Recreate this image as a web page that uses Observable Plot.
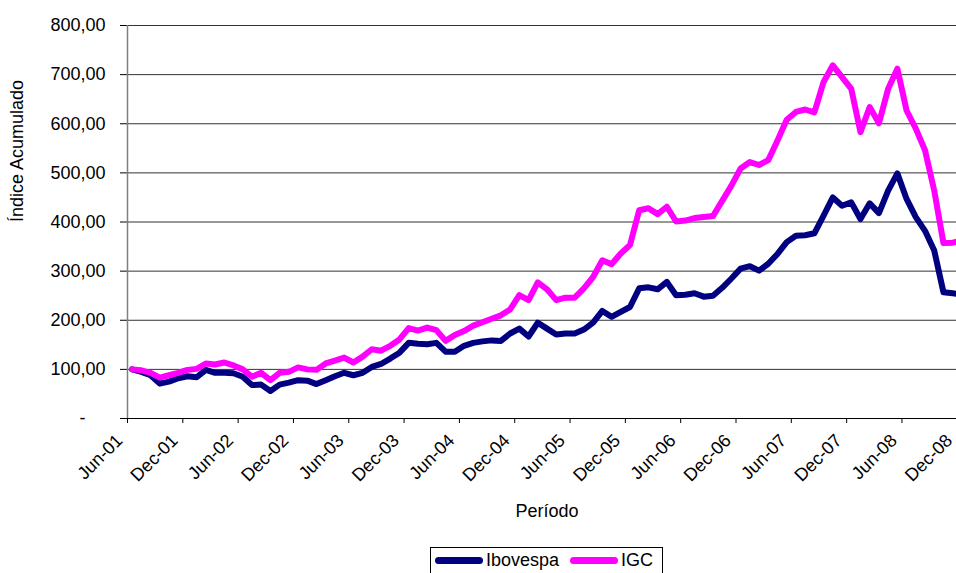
<!DOCTYPE html>
<html><head><meta charset="utf-8">
<script src="https://cdn.jsdelivr.net/npm/d3@7"></script>
<script src="https://cdn.jsdelivr.net/npm/@observablehq/plot@0.6"></script>
<style>
html,body{margin:0;padding:0;background:#fff;overflow:hidden;width:956px;height:573px;position:relative;}
#chart{position:absolute;left:0;top:0;}
#legend{position:absolute;left:430px;top:547px;width:233px;height:40px;border:1px solid #000;box-sizing:border-box;background:#fff;font-family:"Liberation Sans",Arial,sans-serif;font-size:18px;color:#000;}
.item{position:absolute;top:2px;height:21px;line-height:21px;display:flex;align-items:center;white-space:nowrap;}
.sw{display:inline-block;width:48px;height:7px;border-radius:4px;margin-right:3px;}
</style></head><body>
<div id="chart"></div>
<div id="legend"></div>
<script>
const seriesNames = ["Ibovespa", "IGC"];
const seriesColors = ["#000080", "#FF00FF"];
const ibovespa = [100,95,88,71,75,82,86,84,99,93,93,92,85,68,69,56,69,73,78,77,
  70,78,86,93,88,93,105,111,122,134,154,152,151,154,136,136,148,154,157,159,
  158,173,183,167,195,183,171,173,173,181,195,219,207,217,227,265,267,263,278,251,
  252,255,248,250,266,285,305,310,301,315,335,359,372,373,377,413,450,433,440,406,
  438,418,464,499,447,410,382,342,257,255,252];
const igc = [100,98,93,83,88,93,99,101,112,110,114,108,100,85,93,78,93,95,104,100,
  99,112,118,124,114,126,141,138,148,161,184,179,185,180,158,170,178,189,196,203,
  210,222,251,241,277,263,241,246,246,265,288,322,314,336,353,424,428,416,431,401,
  403,408,410,412,443,474,509,522,516,526,566,608,624,629,623,685,719,695,671,583,
  634,601,671,712,627,590,546,464,357,358,362];
const xTickLabels = ["Jun-01","Dec-01","Jun-02","Dec-02","Jun-03","Dec-03","Jun-04","Dec-04","Jun-05","Dec-05","Jun-06","Dec-06","Jun-07","Dec-07","Jun-08","Dec-08"];
const yTicks = [0,100,200,300,400,500,600,700,800];
const xTitle = "Período";
const yTitle = "Índice Acumulado";

const rows = vals => vals.map((v, i) => ({m: i + 0.5, v}));
const xTicks = xTickLabels.map((_, k) => k * 6);
const fmt = d => d === 0 ? "-\u2007\u2007" : d3.format(",.2f")(d).replace(".", ",");

const chart = Plot.plot({
  width: 966, height: 546,
  marginTop: 25, marginBottom: 128, marginLeft: 127, marginRight: 0,
  style: {fontFamily: "'Liberation Sans', Arial, sans-serif", fontSize: "18px", color: "#000", background: "#fff", maxWidth: "none"},
  x: {domain: [0, ibovespa.length], label: null},
  y: {domain: [0, 800], label: null},
  marks: [
    Plot.ruleY(yTicks.filter(d => d > 0), {stroke: "#333", strokeWidth: 1}),
    Plot.axisY(yTicks, {tickSize: 7, tickPadding: 15, tickFormat: fmt, stroke: "#000", label: null}),
    Plot.axisX(xTicks, {tickSize: 5, tickFormat: () => "", stroke: "#000", label: null}),
    Plot.axisX(xTicks, {tickSize: 0, tickRotate: -45, tickPadding: 19, dx: -8, tickFormat: d => xTickLabels[d / 6], label: null}),
    Plot.ruleX([0], {stroke: "#808080", strokeWidth: 1.5}),
    Plot.ruleY([0], {stroke: "#000", strokeWidth: 1}),
    Plot.lineY(rows(ibovespa), {x: "m", y: "v", stroke: seriesColors[0], strokeWidth: 6, strokeLinejoin: "round", strokeLinecap: "round"}),
    Plot.lineY(rows(igc), {x: "m", y: "v", stroke: seriesColors[1], strokeWidth: 6, strokeLinejoin: "round", strokeLinecap: "round"}),
    Plot.text([xTitle], {text: d => d, frameAnchor: "bottom", dy: 93, lineAnchor: "middle"}),
    Plot.text([yTitle], {text: d => d, frameAnchor: "left", dx: -110, rotate: -90, lineAnchor: "middle"})
  ]
});
document.getElementById("chart").appendChild(chart);

const legend = document.getElementById("legend");
const swLeft = [4, 139];
seriesNames.forEach((name, k) => {
  const item = document.createElement("div");
  item.className = "item";
  item.style.left = swLeft[k] + "px";
  const sw = document.createElement("span");
  sw.className = "sw";
  sw.style.background = seriesColors[k];
  item.appendChild(sw);
  item.appendChild(document.createTextNode(name));
  legend.appendChild(item);
});
</script>
</body></html>
